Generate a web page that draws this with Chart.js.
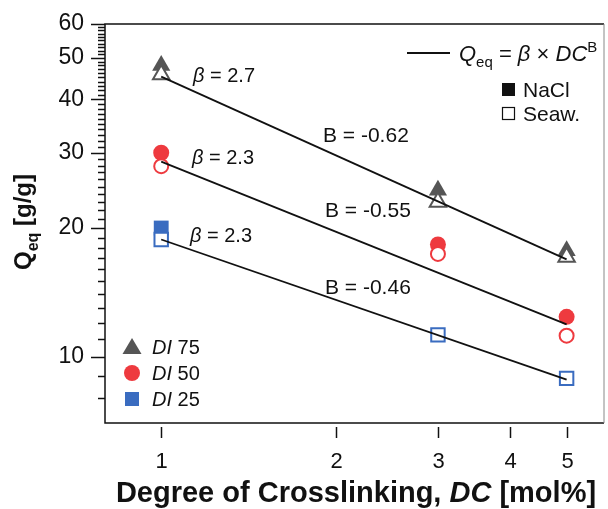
<!DOCTYPE html>
<html>
<head>
<meta charset="utf-8">
<script src="https://cdn.jsdelivr.net/npm/chart.js@4/dist/chart.umd.min.js"></script>
<style>
  html, body { margin: 0; padding: 0; background: #fff; overflow: hidden; }
  #wrap { width: 608px; height: 509px; }
  canvas { display: block; }
</style>
</head>
<body>
<div id="wrap"><canvas id="myChart" width="608" height="509"></canvas></div>
<script>
// data
const dc = [1, 3, 5];
const di75NaCl = [48.0, 24.5, 17.7];
const di75Seaw = [45.7, 23.0, 17.1];
const di50NaCl = [30.0, 18.3, 12.4];
const di50Seaw = [27.9, 17.4, 11.2];
const di25NaCl = [20.0, null, null];
const di25Seaw = [18.8, 11.25, 8.9];
const fitDC = [1, 5];
const fit75 = [45.2, 16.9];
const fit50 = [28.6, 11.9];
const fit25 = [18.8, 8.84];
const xTicks = [1, 2, 3, 4, 5];
const yTicks = [10, 20, 30, 40, 50, 60];
const betaLabels = ['2.7', '2.3', '2.3'];
const bLabels = ['-0.62', '-0.55', '-0.46'];
const groupNames = ['75', '50', '25'];

const FONT = '"Liberation Sans", Arial, sans-serif';
const GRAY = '#555555', RED = '#ee3a3f', BLUE = '#3a6cc0';

function pts(xs, ys) {
  const out = [];
  for (let i = 0; i < xs.length; i++) out.push({x: xs[i], y: ys[i]});
  return out;
}

function filled(data, color, style, r) {
  return {type: 'scatter', data: pts(dc, data), pointStyle: style, pointRadius: r,
    backgroundColor: color, borderColor: color, borderWidth: 0, order: 3, pointHoverRadius: r};
}
function open(data, color, style, r) {
  return {type: 'scatter', data: pts(dc, data), pointStyle: style, pointRadius: r,
    backgroundColor: '#fff', borderColor: color, borderWidth: 2, order: 2, pointHoverRadius: r};
}
function fit(data) {
  return {type: 'line', data: pts(fitDC, data), borderColor: '#111', borderWidth: 1.8,
    pointRadius: 0, fill: false, order: 1};
}

// draw a line of text made of pieces with their own fonts
function runs(ctx, parts, x, y, measureOnly) {
  let w = 0;
  for (const p of parts) {
    ctx.font = p.f;
    if (!measureOnly) ctx.fillText(p.t, x + w, y + (p.dy || 0));
    w += ctx.measureText(p.t).width;
  }
  return w;
}

function marker(ctx, style, x, y, color) {
  ctx.fillStyle = color;
  ctx.beginPath();
  if (style === 'triangle') {
    ctx.moveTo(x, y - 9); ctx.lineTo(x + 9.5, y + 7); ctx.lineTo(x - 9.5, y + 7); ctx.closePath();
  } else if (style === 'circle') {
    ctx.arc(x, y, 8, 0, Math.PI * 2);
  } else {
    ctx.rect(x - 7, y - 7, 14, 14);
  }
  ctx.fill();
}

function noPad(s) {
  s.paddingLeft = 0; s.paddingRight = 0; s.paddingTop = 0; s.paddingBottom = 0;
}

const decor = {
  id: 'decor',
  afterDraw(chart) {
    const ctx = chart.ctx, a = chart.chartArea;
    const xs = chart.scales.x, ys = chart.scales.y;
    ctx.save();
    // frame
    ctx.strokeStyle = '#111';
    ctx.lineWidth = 1.5;
    ctx.beginPath();
    ctx.moveTo(a.right, a.top); ctx.lineTo(a.left, a.top); ctx.lineTo(a.left, a.bottom); ctx.lineTo(a.right, a.bottom);
    ctx.stroke();
    ctx.strokeStyle = '#888';
    ctx.lineWidth = 1;
    ctx.beginPath(); ctx.moveTo(a.right, a.top); ctx.lineTo(a.right, a.bottom); ctx.stroke();

    // y ticks, long at labelled values, short at every integer
    ctx.strokeStyle = '#111';
    ctx.lineWidth = 1.5;
    for (let v = 8; v <= 60; v++) {
      const py = Math.round(ys.getPixelForValue(v)) + 0.5;
      const len = yTicks.includes(v) ? 14 : 7;
      ctx.beginPath(); ctx.moveTo(a.left - len, py); ctx.lineTo(a.left, py); ctx.stroke();
    }
    // x ticks and labels, sitting a little below the frame
    ctx.fillStyle = '#111';
    ctx.textAlign = 'center';
    ctx.textBaseline = 'alphabetic';
    ctx.font = '22px ' + FONT;
    for (const v of xTicks) {
      const px = Math.round(xs.getPixelForValue(v)) + 0.5;
      ctx.beginPath(); ctx.moveTo(px, a.bottom + 4); ctx.lineTo(px, a.bottom + 15); ctx.stroke();
      ctx.fillText(String(v), px, a.bottom + 45);
    }

    ctx.textAlign = 'left';

    // x title
    const xt = [
      {t: 'Degree of Crosslinking, ', f: 'bold 29px ' + FONT},
      {t: 'DC', f: 'italic bold 29px ' + FONT},
      {t: ' [mol%]', f: 'bold 29px ' + FONT}
    ];
    const xw = runs(ctx, xt, 0, 0, true);
    runs(ctx, xt, 356 - xw / 2, 502);

    // y title
    const yt = [
      {t: 'Q', f: 'bold 24px ' + FONT},
      {t: 'eq', f: 'bold 16px ' + FONT, dy: 7},
      {t: ' [g/g]', f: 'bold 24px ' + FONT}
    ];
    const yw = runs(ctx, yt, 0, 0, true);
    ctx.save();
    ctx.translate(31, 222);
    ctx.rotate(-Math.PI / 2);
    runs(ctx, yt, -yw / 2, 0);
    ctx.restore();

    // fit annotations
    const betaPos = [[193, 82], [192, 164], [190, 242]];
    const bPos = [[323, 142], [325, 217], [325, 294]];
    for (let i = 0; i < 3; i++) {
      runs(ctx, [{t: '\u03B2', f: 'italic 20px ' + FONT}, {t: ' = ' + betaLabels[i], f: '20px ' + FONT}], betaPos[i][0], betaPos[i][1]);
      runs(ctx, [{t: 'B = ' + bLabels[i], f: '21px ' + FONT}], bPos[i][0], bPos[i][1]);
    }

    // top right legend
    ctx.lineWidth = 2;
    ctx.beginPath(); ctx.moveTo(407, 53); ctx.lineTo(450, 53); ctx.stroke();
    runs(ctx, [
      {t: 'Q', f: 'italic 22px ' + FONT},
      {t: 'eq', f: '15px ' + FONT, dy: 6},
      {t: ' = ', f: '22px ' + FONT},
      {t: '\u03B2', f: 'italic 22px ' + FONT},
      {t: ' \u00D7 ', f: '22px ' + FONT},
      {t: 'DC', f: 'italic 22px ' + FONT},
      {t: 'B', f: '15px ' + FONT, dy: -9}
    ], 459, 61);
    ctx.fillRect(502, 83, 13, 13);
    ctx.lineWidth = 1.2;
    ctx.strokeRect(502.5, 107.5, 12, 12);
    runs(ctx, [{t: 'NaCl', f: '21px ' + FONT}], 523, 97);
    runs(ctx, [{t: 'Seaw.', f: '21px ' + FONT}], 523, 121);

    // bottom left legend
    const styles = ['triangle', 'circle', 'rect'];
    const colors = [GRAY, RED, BLUE];
    const rows = [347, 373, 399];
    for (let i = 0; i < 3; i++) {
      marker(ctx, styles[i], 132, rows[i], colors[i]);
      ctx.fillStyle = '#111';
      runs(ctx, [{t: 'DI', f: 'italic 20px ' + FONT}, {t: ' ' + groupNames[i], f: '20px ' + FONT}], 152, rows[i] + 7);
    }
    ctx.restore();
  }
};

const ctx = document.getElementById('myChart').getContext('2d');
const myChart = new Chart(ctx, {
  data: {
    datasets: [
      fit(fit75), fit(fit50), fit(fit25),
      open(di75Seaw, GRAY, 'triangle', 9.5),
      open(di50Seaw, RED, 'circle', 7),
      open(di25Seaw, BLUE, 'rect', 9.5),
      filled(di75NaCl, GRAY, 'triangle', 10.5),
      filled(di50NaCl, RED, 'circle', 8),
      filled(di25NaCl, BLUE, 'rect', 10.5)
    ]
  },
  options: {
    responsive: false,
    animation: false,
    layout: {autoPadding: false, padding: {left: 0, top: 24, right: 4, bottom: 0}},
    plugins: {legend: {display: false}, tooltip: {enabled: false}},
    scales: {
      x: {
        type: 'logarithmic', min: 0.8, max: 5.8,
        afterBuildTicks: s => { s.ticks = xTicks.map(v => ({value: v})); },
        afterFit: s => { s.height = 86; noPad(s); },
        afterUpdate: noPad,
        grid: {display: false, drawTicks: false},
        border: {display: false},
        ticks: {display: false}
      },
      y: {
        type: 'logarithmic', min: 7, max: 60,
        afterBuildTicks: s => { s.ticks = yTicks.map(v => ({value: v})); },
        afterFit: s => { s.width = 105; noPad(s); },
        afterUpdate: noPad,
        grid: {display: false, drawTicks: false},
        border: {display: false},
        ticks: {color: '#111', font: {family: FONT, size: 23}, padding: 21, autoSkip: false,
          callback: v => String(v)}
      }
    }
  },
  plugins: [decor]
});
</script>
</body>
</html>
